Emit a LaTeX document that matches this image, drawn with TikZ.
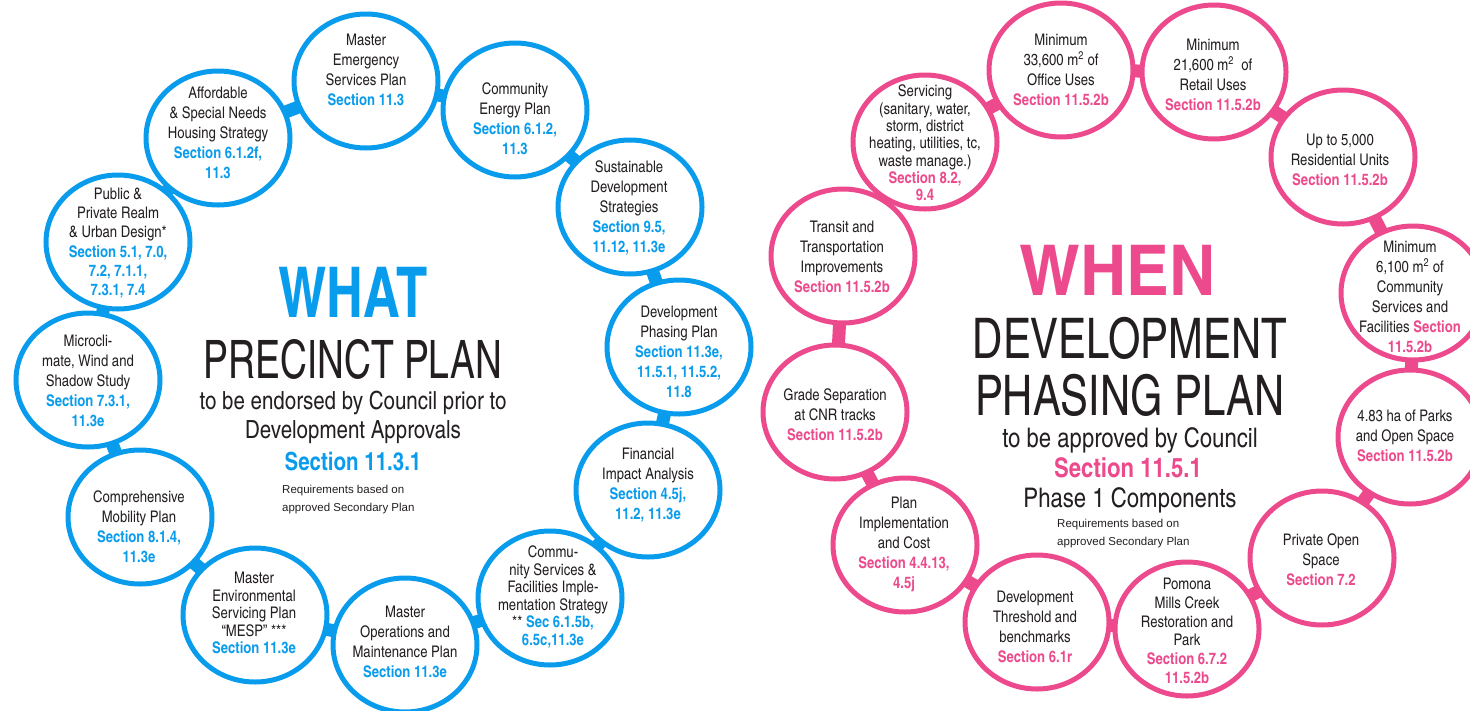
\documentclass[tikz,border=0pt]{standalone}
\usepackage{graphicx}
\usepackage{fontspec}
\setmainfont{texgyreheroscn}[Extension=.otf,UprightFont=*-regular,BoldFont=*-bold,ItalicFont=*-italic,BoldItalicFont=*-bolditalic]
\newfontfamily\reqfont{Liberation Sans}
\usetikzlibrary{shapes.geometric}
\definecolor{whatblue}{HTML}{0A9CEC}
\definecolor{whenpink}{HTML}{EC4A8C}
\definecolor{ink}{HTML}{231F20}
\pgfdeclarelayer{back}
\pgfsetlayers{back,main}
\newcommand{\wsec}[1]{{\bfseries\color{whatblue}#1}}
\newcommand{\psec}[1]{{\bfseries\color{whenpink}#1}}
\tikzset{
  bubble/.style={ellipse,line width=5,fill=white,minimum width=144,minimum height=134,inner sep=0},
  whatbub/.style={bubble,draw=whatblue},
  whenbub/.style={bubble,draw=whenpink},
  bubtext/.style={align=center,inner sep=0,text=ink,font=\fontsize{16}{20}\selectfont},
  tight/.style={font=\fontsize{16}{17.5}\selectfont},
  whatlink/.style={line width=13,whatblue},
  whenlink/.style={line width=13,whenpink},
  title/.style={anchor=base,inner sep=0,text=ink},
  reqtext/.style={align=left,inner sep=0,text=ink,font=\reqfont\fontsize{11.5}{17.5}\selectfont},
}

\begin{document}
\begin{tikzpicture}[x=1pt,y=-1pt]
  \useasboundingbox (0,0) rectangle (1470,710);
  \clip (0,0) rectangle (1470,710);

  % WHAT ring
  \node[whatbub] (emerg) at (366,81) {};
  \node[whatbub] (energy) at (515,110) {};
  \node[whatbub] (sustain) at (630,207) {};
  \node[whatbub] (phasing) at (679,347) {};
  \node[whatbub] (financial) at (648,490) {};
  \node[whatbub] (commserv) at (550,598) {};
  \node[whatbub] (operations) at (405,645) {};
  \node[whatbub] (mesp) at (255,615) {};
  \node[whatbub] (mobility) at (140,517) {};
  \node[whatbub] (microclim) at (88,380) {};
  \node[whatbub] (realm) at (118,242) {};
  \node[whatbub] (housing) at (218,138) {};

  \node[bubtext] (emerg-t) at (366,70) {Master\\Emergency\\Services Plan\\\wsec{Section 11.3}};
  \node[bubtext] (energy-t) at (515,119) {Community\\Energy Plan\\\wsec{Section 6.1.2,}\\\wsec{11.3}};
  \node[bubtext] (sustain-t) at (629,208) {Sustainable\\Development\\Strategies\\\wsec{Section 9.5,}\\\wsec{11.12, 11.3e}};
  \node[bubtext] (phasing-t) at (679,352) {Development\\Phasing Plan\\\wsec{Section 11.3e,}\\\wsec{11.5.1, 11.5.2,}\\\wsec{11.8}};
  \node[bubtext] (financial-t) at (648,485) {Financial\\Impact Analysis\\\wsec{Section 4.5j,}\\\wsec{11.2, 11.3e}};
  \node[bubtext,tight] (commserv-t) at (553,597) {Commu-\\nity Services \&\\Facilities Imple-\\mentation Strategy\\** \wsec{Sec 6.1.5b,}\\\wsec{6.5c,11.3e}};
  \node[bubtext] (operations-t) at (405,642) {Master\\Operations and\\Maintenance Plan\\\wsec{Section 11.3e}};
  \node[bubtext,tight] (mesp-t) at (254,613) {Master\\Environmental\\Servicing Plan\\``MESP'' ***\\\wsec{Section 11.3e}};
  \node[bubtext] (mobility-t) at (139,527) {Comprehensive\\Mobility Plan\\\wsec{Section 8.1.4,}\\\wsec{11.3e}};
  \node[bubtext] (microclim-t) at (88,381) {Microcli-\\mate, Wind and\\Shadow Study\\\wsec{Section 7.3.1,}\\\wsec{11.3e}};
  \node[bubtext,font=\fontsize{16}{19.3}\selectfont] (realm-t) at (118,243) {Public \&\\Private Realm\\\& Urban Design*\\\wsec{Section 5.1, 7.0,}\\\wsec{7.2, 7.1.1,}\\\wsec{7.3.1, 7.4}};
  \node[bubtext] (housing-t) at (218,133) {Affordable\\\& Special Needs\\Housing Strategy\\\wsec{Section 6.1.2f,}\\\wsec{11.3}};

  \begin{pgfonlayer}{back}
    \foreach \a/\b in {emerg/energy,energy/sustain,sustain/phasing,phasing/financial,financial/commserv,commserv/operations,operations/mesp,mesp/mobility,mobility/microclim,microclim/realm,realm/housing,housing/emerg}
      \draw[whatlink] (\a.center) -- (\b.center);
  \end{pgfonlayer}

  \node[title,text=whatblue,font=\fontsize{70}{70}\selectfont\bfseries] (what) at (353,317) {\scalebox{0.89}[1]{WHAT}};
  \node[title,font=\fontsize{53}{53}\selectfont] (precinct) at (353,378) {\scalebox{0.855}[1]{PRECINCT PLAN}};
  \node[title,font=\fontsize{25}{25}\selectfont] (endorsed) at (353,409) {to be endorsed by Council prior to};
  \node[title,font=\fontsize{25}{25}\selectfont] (approvals) at (353,438) {Development Approvals};
  \node[title,font=\fontsize{25}{25}\selectfont] (whatsec) at (353,470) {\wsec{Section 11.3.1}};
  \node[reqtext,anchor=base west] (whatreq) at (282,511) {Requirements based on\\approved Secondary Plan};

  % WHEN ring
  \node[whenbub] (office) at (1061,70) {};
  \node[whenbub] (retail) at (1214,72) {};
  \node[whenbub] (units) at (1343,157) {};
  \node[whenbub] (community) at (1413,293) {};
  \node[whenbub] (parks) at (1410,437) {};
  \node[whenbub] (private) at (1322,558) {};
  \node[whenbub] (pomona) at (1187,629) {};
  \node[whenbub] (threshold) at (1037,622) {};
  \node[whenbub] (implement) at (905,545) {};
  \node[whenbub] (grade) at (835,412) {};
  \node[whenbub] (transit) at (843,256) {};
  \node[whenbub] (servicing) at (925,142) {};

  \node[bubtext] (office-t) at (1061,70) {Minimum\\33,600 m\textsuperscript{2} of\\Office Uses\\\psec{Section 11.5.2b}};
  \node[bubtext] (retail-t) at (1213,75) {Minimum\\21,600 m\textsuperscript{2}\ \ of\\Retail Uses\\\psec{Section 11.5.2b}};
  \node[bubtext] (units-t) at (1340,160) {Up to 5,000\\Residential Units\\\psec{Section 11.5.2b}};
  \node[bubtext] (community-t) at (1410,297) {Minimum\\6,100 m\textsuperscript{2} of\\Community\\Services and\\Facilities \psec{Section}\\\psec{11.5.2b}};
  \node[bubtext] (parks-t) at (1405,436) {4.83 ha of Parks\\and Open Space\\\psec{Section 11.5.2b}};
  \node[bubtext] (private-t) at (1321,560) {Private Open\\Space\\\psec{Section 7.2}};
  \node[bubtext,font=\fontsize{16}{18.7}\selectfont] (pomona-t) at (1187,631) {Pomona\\Mills Creek\\Restoration and\\Park\\\psec{Section 6.7.2}\\\psec{11.5.2b}};
  \node[bubtext] (threshold-t) at (1035,627) {Development\\Threshold and\\benchmarks\\\psec{Section 6.1r}};
  \node[bubtext] (implement-t) at (904,544) {Plan\\Implementation\\and Cost\\\psec{Section 4.4.13,}\\\psec{4.5j}};
  \node[bubtext] (grade-t) at (835,415) {Grade Separation\\at CNR tracks\\\psec{Section 11.5.2b}};
  \node[bubtext] (transit-t) at (842,257) {Transit and\\Transportation\\Improvements\\\psec{Section 11.5.2b}};
  \node[bubtext,font=\fontsize{16}{17.3}\selectfont] (servicing-t) at (925,143) {Servicing\\(sanitary, water,\\storm, district\\heating, utilities, tc,\\waste manage.)\\\psec{Section 8.2,}\\\psec{9.4}};

  \begin{pgfonlayer}{back}
    \foreach \a/\b in {servicing/office,office/retail,retail/units,units/community,community/parks,parks/private,private/pomona,pomona/threshold,threshold/implement,implement/grade,grade/transit,transit/servicing}
      \draw[whenlink] (\a.center) -- (\b.center);
  \end{pgfonlayer}

  \node[title,text=whenpink,font=\fontsize{70}{70}\selectfont\bfseries] (when) at (1118,295) {\scalebox{1.12}[1]{WHEN}};
  \node[title,font=\fontsize{56}{56}\selectfont] (develop) at (1130,358) {\scalebox{0.91}[1]{DEVELOPMENT}};
  \node[title,font=\fontsize{56}{56}\selectfont] (phasingplan) at (1130,415) {\scalebox{0.91}[1]{PHASING PLAN}};
  \node[title,font=\fontsize{27}{27}\selectfont] (approved) at (1130,447) {to be approved by Council};
  \node[title,font=\fontsize{27}{27}\selectfont] (whensec) at (1128,477) {\psec{Section 11.5.1}};
  \node[title,font=\fontsize{27}{27}\selectfont] (phaseone) at (1130,507) {Phase 1 Components};
  \node[reqtext,anchor=base west] (whenreq) at (1057,545) {Requirements based on\\approved Secondary Plan};
\end{tikzpicture}
\end{document}
